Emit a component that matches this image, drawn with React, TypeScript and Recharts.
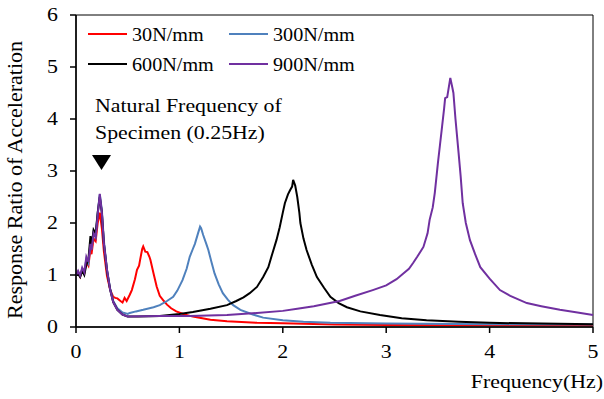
import { LineChart, Line, XAxis, YAxis, ReferenceArea } from 'recharts';

// [frequency (Hz), response ratio]
const k30: [number, number][] = [
  [0, 1.0], [0.02, 1.06], [0.04, 0.97], [0.06, 1.1], [0.08, 1.03], [0.1, 1.25], [0.12, 1.18],
  [0.14, 1.5], [0.15, 1.4], [0.17, 1.7], [0.19, 1.65], [0.21, 2.0], [0.23, 2.2], [0.25, 1.9],
  [0.27, 1.45], [0.3, 0.98], [0.33, 0.72], [0.36, 0.58], [0.38, 0.56], [0.4, 0.55], [0.43, 0.5],
  [0.45, 0.47], [0.47, 0.56], [0.49, 0.5], [0.52, 0.62], [0.54, 0.71], [0.57, 0.92], [0.59, 1.1],
  [0.61, 1.18], [0.62, 1.29], [0.64, 1.5], [0.65, 1.55], [0.67, 1.45], [0.69, 1.44], [0.71, 1.35],
  [0.72, 1.29], [0.75, 1.03], [0.78, 0.78], [0.81, 0.6], [0.85, 0.5], [0.88, 0.43], [0.92, 0.36],
  [0.97, 0.3], [1.05, 0.24], [1.13, 0.2], [1.3, 0.14], [1.46, 0.11], [1.75, 0.08], [2.0, 0.07],
  [2.5, 0.05], [3.0, 0.04], [4.0, 0.035], [5.0, 0.03],
];

const k300: [number, number][] = [
  [0, 1.0], [0.02, 1.04], [0.04, 0.98], [0.06, 1.12], [0.08, 1.06], [0.1, 1.3], [0.12, 1.22],
  [0.14, 1.62], [0.15, 1.5], [0.17, 1.82], [0.19, 1.75], [0.21, 2.2], [0.23, 2.55], [0.25, 2.25],
  [0.27, 1.65], [0.3, 1.1], [0.33, 0.74], [0.36, 0.5], [0.4, 0.36], [0.45, 0.28], [0.5, 0.25],
  [0.52, 0.27], [0.58, 0.3], [0.65, 0.33], [0.75, 0.38], [0.81, 0.42], [0.88, 0.5], [0.94, 0.58],
  [0.98, 0.7], [1.03, 0.9], [1.07, 1.12], [1.1, 1.35], [1.13, 1.5], [1.15, 1.6], [1.18, 1.8],
  [1.2, 1.93], [1.21, 1.9], [1.23, 1.77], [1.26, 1.6], [1.28, 1.48], [1.31, 1.25], [1.34, 1.03],
  [1.38, 0.82], [1.42, 0.65], [1.47, 0.52], [1.52, 0.42], [1.59, 0.33], [1.71, 0.24], [1.81, 0.18],
  [2.0, 0.13], [2.2, 0.1], [2.46, 0.08], [3.0, 0.065], [4.0, 0.055], [5.0, 0.05],
];

const k600: [number, number][] = [
  [0, 1.0], [0.02, 1.02], [0.04, 0.96], [0.06, 1.08], [0.08, 1.0], [0.1, 1.2], [0.12, 1.3],
  [0.14, 1.75], [0.15, 1.55], [0.17, 1.87], [0.19, 1.8], [0.21, 2.2], [0.23, 2.5], [0.25, 2.2],
  [0.27, 1.6], [0.3, 1.08], [0.33, 0.72], [0.36, 0.48], [0.4, 0.33], [0.45, 0.24], [0.5, 0.2],
  [0.6, 0.2], [0.81, 0.21], [1.0, 0.25], [1.13, 0.29], [1.3, 0.35], [1.46, 0.42], [1.55, 0.5],
  [1.62, 0.57], [1.68, 0.65], [1.75, 0.77], [1.81, 0.96], [1.86, 1.15], [1.9, 1.42], [1.94, 1.68],
  [1.97, 1.92], [2.0, 2.2], [2.02, 2.38], [2.05, 2.55], [2.07, 2.63], [2.09, 2.7], [2.1, 2.83],
  [2.12, 2.72], [2.14, 2.5], [2.16, 2.2], [2.17, 2.0], [2.2, 1.7], [2.23, 1.48], [2.28, 1.2],
  [2.33, 0.96], [2.4, 0.75], [2.46, 0.58], [2.54, 0.46], [2.62, 0.38], [2.75, 0.3], [2.94, 0.23],
  [3.15, 0.17], [3.39, 0.13], [3.7, 0.1], [4.0, 0.08], [4.5, 0.065], [5.0, 0.055],
];

const k900: [number, number][] = [
  [0, 1.0], [0.02, 1.08], [0.04, 0.99], [0.06, 1.14], [0.08, 1.05], [0.1, 1.35], [0.12, 1.25],
  [0.14, 1.6], [0.15, 1.48], [0.17, 1.8], [0.19, 1.72], [0.21, 2.15], [0.23, 2.56], [0.25, 2.2],
  [0.27, 1.6], [0.3, 1.1], [0.33, 0.72], [0.36, 0.48], [0.4, 0.33], [0.45, 0.24], [0.5, 0.2],
  [0.81, 0.21], [1.1, 0.21], [1.46, 0.23], [1.75, 0.27], [2.0, 0.31], [2.14, 0.35], [2.3, 0.4],
  [2.55, 0.5], [2.7, 0.6], [2.87, 0.71], [3.0, 0.8], [3.1, 0.92], [3.16, 1.02], [3.22, 1.12],
  [3.26, 1.23], [3.3, 1.35], [3.36, 1.54], [3.4, 1.8], [3.42, 2.06], [3.45, 2.3], [3.47, 2.58],
  [3.5, 3.15], [3.52, 3.5], [3.54, 3.85], [3.56, 4.2], [3.57, 4.4], [3.59, 4.42], [3.62, 4.79],
  [3.64, 4.6], [3.65, 4.5], [3.67, 4.0], [3.7, 3.35], [3.72, 2.9], [3.74, 2.38], [3.77, 2.0],
  [3.81, 1.67], [3.86, 1.4], [3.91, 1.15], [4.0, 0.93], [4.1, 0.71], [4.2, 0.6], [4.36, 0.46],
  [4.5, 0.4], [4.68, 0.33], [4.85, 0.28], [5.0, 0.23],
];

const xTicks = [0, 1, 2, 3, 4, 5];
const yTicks = [0, 1, 2, 3, 4, 5, 6];

const series = [
  { name: '30N/mm', color: '#FF0000', points: k30 },
  { name: '300N/mm', color: '#4F81BD', points: k300 },
  { name: '600N/mm', color: '#000000', points: k600 },
  { name: '900N/mm', color: '#7030A0', points: k900 },
];

// the source picture is a bit wider than tall, so glyphs get a horizontal stretch
const FONT = 'Liberation Serif, serif';
const SX = 1.15;

function Txt({ x, y, size = 19, sx = SX, anchor = 'start', dy, children }: any) {
  return (
    <text
      transform={`translate(${x},${y}) scale(${sx},1)`}
      textAnchor={anchor}
      dy={dy}
      fill="#000"
      style={{ fontFamily: FONT, fontSize: size }}
    >
      {children}
    </text>
  );
}

function XTick({ x, y, payload }: any) {
  return <Txt x={x} y={y} anchor="middle" dy="0.71em">{payload.value}</Txt>;
}

function YTick({ x, y, payload }: any) {
  return <Txt x={x} y={y} anchor="end" dy="0.34em">{payload.value}</Txt>;
}

function LegendBox() {
  return (
    <g>
      {series.map((s, i) => {
        const x = i % 2 === 0 ? 88 : 229;
        const y = i < 2 ? 34 : 64;
        return (
          <g key={s.name}>
            <line x1={x} x2={x + 39} y1={y} y2={y} stroke={s.color} strokeWidth={2} />
            <Txt x={x + 44} y={y + 7} size={18} sx={1.12}>{s.name}</Txt>
          </g>
        );
      })}
    </g>
  );
}

function Notes() {
  return (
    <g>
      <Txt x={95} y={112}>Natural Frequency of</Txt>
      <Txt x={95} y={139}>Specimen (0.25Hz)</Txt>
      <polygon points="92,155 111,155 101.5,170" fill="#000" />
      <text
        x={22}
        y={180}
        textAnchor="middle"
        transform="rotate(-90 22 180)"
        fill="#000"
        style={{ fontFamily: FONT, fontSize: 22 }}
      >
        Response Ratio of Acceleration
      </text>
      <Txt x={603} y={388} anchor="end">Frequency(Hz)</Txt>
    </g>
  );
}

export default function App() {
  return (
    <div style={{ position: 'absolute', left: 0, top: 0, background: '#fff' }}>
      <LineChart width={604} height={399} margin={{ top: 15, right: 11, left: 0, bottom: 0 }}>
        <XAxis
          type="number"
          dataKey="f"
          domain={[0, 5]}
          ticks={xTicks}
          height={72}
          tickSize={6}
          tickMargin={12}
          stroke="#000"
          strokeWidth={1.5}
          tick={<XTick />}
        />
        <YAxis
          type="number"
          domain={[0, 6]}
          ticks={yTicks}
          width={76}
          tickSize={6}
          tickMargin={12}
          stroke="#000"
          strokeWidth={1.5}
          tick={<YTick />}
        />
        <ReferenceArea x1={0} x2={5} y1={0} y2={6} fill="none" stroke="#000" strokeWidth={1} />
        {series.map((s) => (
          <Line
            key={s.name}
            name={s.name}
            data={s.points.map(([f, v]) => ({ f, v }))}
            dataKey="v"
            type="linear"
            stroke={s.color}
            strokeWidth={2}
            dot={false}
            isAnimationActive={false}
          />
        ))}
        <LegendBox />
        <Notes />
      </LineChart>
    </div>
  );
}
